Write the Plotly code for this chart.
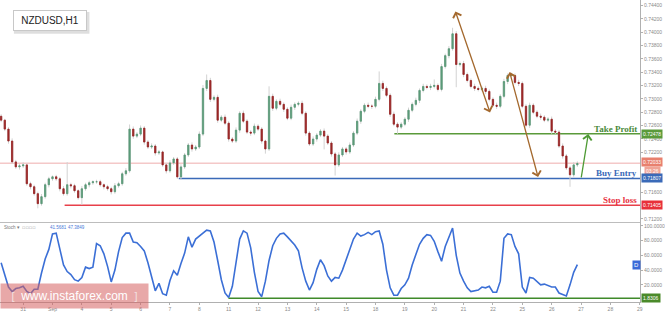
import plotly.graph_objects as go

symbol = "NZDUSD,H1"
day_labels = ["31", "Sep", "4", "5", "6", "7", "8", "11", "12", "13", "14", "15",
              "18", "19", "20", "21", "22", "25", "26", "27", "28", "29"]
price_ticks = [0.712, 0.716, 0.722, 0.724, 0.726, 0.728, 0.730, 0.732, 0.734, 0.736,
               0.738, 0.740, 0.742, 0.744]
stoch_ticks = [20, 40, 60, 80, 100]
bar_hours = 3
start_hour = -18
first_open = 0.72740
pip = 0.0001

closes = [
    0.72681, 0.72547, 0.72368, 0.72055, 0.71980, 0.71995, 0.72010, 0.71727, 0.71682, 0.71578,
    0.71428, 0.71533, 0.71712, 0.71801, 0.71831, 0.71801, 0.71652, 0.71578, 0.71712, 0.71697,
    0.71622, 0.71518, 0.71652, 0.71712, 0.71742, 0.71757, 0.71757, 0.71712, 0.71682, 0.71652,
    0.71607, 0.71697, 0.71727, 0.71876, 0.71921, 0.72547, 0.72442, 0.72472, 0.72562, 0.72353,
    0.72278, 0.72293, 0.72189, 0.72204, 0.72010, 0.71921, 0.72040, 0.72099, 0.71830, 0.71980,
    0.72159, 0.72308, 0.72249, 0.72278, 0.72472, 0.73158, 0.73277, 0.72994, 0.73024, 0.72681,
    0.72726, 0.72636, 0.72398, 0.72368, 0.72532, 0.72785, 0.72666, 0.72502, 0.72487, 0.72591,
    0.72547, 0.72368, 0.72249, 0.73039, 0.72860, 0.72964, 0.72919, 0.72845, 0.72711, 0.72875,
    0.72919, 0.72934, 0.72785, 0.72487, 0.72323, 0.72398, 0.72457, 0.72517, 0.72442, 0.72338,
    0.72174, 0.72010, 0.72159, 0.72249, 0.72204, 0.72308, 0.72487, 0.72666, 0.72815, 0.72905,
    0.72890, 0.72890, 0.72994, 0.73233, 0.73158, 0.73054, 0.72770, 0.72621, 0.72577, 0.72621,
    0.72696, 0.72830, 0.72919, 0.72979, 0.73128, 0.73188, 0.73173, 0.73188, 0.73203, 0.73143,
    0.73486, 0.73650, 0.73754, 0.73978, 0.73516, 0.73531, 0.73367, 0.73277, 0.73188, 0.73158,
    0.73143, 0.73158, 0.73113, 0.72994, 0.72905, 0.72890, 0.73039, 0.73262, 0.73352, 0.73352,
    0.73248, 0.73233, 0.72890, 0.72606, 0.72905, 0.72800, 0.72741, 0.72726, 0.72681, 0.72696,
    0.72517, 0.72502, 0.72293, 0.72144, 0.71965, 0.71861, 0.72010, 0.72033,
]

wick_up_pips = [
    3, 2, 3, 4, 3, 3, 4, 2, 3, 3,
    3, 4, 3, 3, 2, 3, 3, 4, 34, 3,
    3, 2, 4, 3, 3, 2, 3, 3, 2, 3,
    3, 4, 3, 3, 4, 7, 4, 3, 4, 3,
    3, 4, 3, 3, 2, 3, 4, 3, 3, 4,
    3, 3, 4, 3, 4, 5, 9, 4, 3, 4,
    3, 4, 3, 3, 4, 3, 4, 3, 3, 4,
    3, 3, 2, 15, 4, 3, 4, 3, 3, 4,
    3, 3, 4, 3, 3, 4, 3, 3, 4, 3,
    3, 3, 4, 3, 3, 4, 3, 4, 3, 3,
    4, 3, 4, 18, 4, 3, 3, 4, 3, 3,
    3, 4, 3, 4, 3, 4, 3, 4, 9, 3,
    4, 3, 4, 9, 4, 3, 4, 3, 3, 4,
    3, 3, 4, 3, 3, 4, 3, 4, 3, 4,
    3, 4, 3, 3, 4, 3, 3, 4, 3, 3,
    4, 3, 3, 4, 3, 3, 4, 3,
]

wick_dn_pips = [
    3, 3, 4, 3, 3, 4, 3, 3, 4, 3,
    7, 3, 3, 4, 3, 3, 4, 3, 3, 4,
    3, 3, 11, 3, 4, 3, 3, 3, 4, 3,
    4, 3, 3, 3, 3, 3, 4, 3, 3, 4,
    3, 3, 4, 3, 3, 4, 3, 3, 3, 4,
    3, 3, 4, 3, 3, 3, 4, 4, 3, 4,
    3, 3, 4, 3, 3, 4, 3, 3, 4, 3,
    3, 4, 7, 3, 4, 3, 3, 4, 3, 3,
    4, 3, 3, 4, 3, 3, 4, 3, 20, 3,
    4, 16, 3, 3, 4, 3, 3, 3, 4, 3,
    3, 4, 3, 3, 4, 3, 4, 3, 10, 3,
    3, 4, 3, 3, 4, 3, 3, 4, 3, 3,
    3, 3, 4, 3, 34, 3, 4, 3, 3, 4,
    3, 3, 4, 3, 3, 4, 3, 3, 4, 3,
    3, 4, 3, 3, 4, 3, 3, 4, 3, 3,
    4, 3, 3, 4, 3, 18, 3, 3,
]

stoch = [
    50, 33, 17, 11, 15, 16, 18, 11, 8, 14,
    14, 36, 55, 68, 89, 90, 68, 47, 38, 34,
    27, 25, 30, 44, 42, 44, 76, 73, 62, 45,
    24, 40, 65, 84, 90, 90, 78, 77, 72, 66,
    50, 29, 12, 22, 8, 6, 26, 39, 33, 49,
    63, 85, 71, 82, 86, 91, 94, 93, 78, 53,
    27, 9, 3, 18, 52, 82, 93, 90, 70, 37,
    11, 4, 25, 53, 73, 83, 89, 90, 85, 79,
    74, 66, 43, 25, 13, 23, 41, 54, 46, 32,
    25, 30, 29, 40, 55, 70, 82, 90, 86, 88,
    91, 88, 92, 93, 75, 40, 16, 6, 6, 15,
    20, 29, 47, 61, 75, 83, 88, 87, 79, 65,
    52, 72, 85, 97, 60, 36, 25, 16, 11, 12,
    13, 17, 16, 18, 10, 10, 25, 83, 89, 88,
    72, 62, 17, 9, 30, 29, 25, 20, 21, 19,
    17, 17, 9, 7, 5, 20, 37, 47.4,
]

take_profit = 0.72478
buy_entry = 0.71807
stop_loss = 0.71405
last_price = 0.72033
stoch_level = 1.8306
stoch_k_text = "41.5681"
stoch_d_text = "47.3849"
countdown = "03:26"
watermark = "www.instaforex.com"

# level start times (hours from 31 Aug 00:00, trading hours)
tp_start, be_start, sl_start, st_start = 303.4, 127.2, 33.9, 167.8
# arrows (hour, price)
arrow1 = ((352.9, 0.74336), (381.6, 0.72796))
arrow2 = ((397.3, 0.73426), (420.9, 0.71827))
arrow3 = ((456.0, 0.71801), (461.9, 0.72472))

# ------------------------------------------------------------------
n = len(closes)
times = [start_hour + bar_hours * k for k in range(n)]
opens = [first_open] + closes[:-1]
highs = [max(o, c) + u * pip for o, c, u in zip(opens, closes, wick_up_pips)]
lows = [min(o, c) - d * pip for o, c, d in zip(opens, closes, wick_dn_pips)]
body_hi = [max(o, c) for o, c in zip(opens, closes)]
body_lo = [min(o, c) for o, c in zip(opens, closes)]

X0, X1 = -18.92, 504.2
Y_MAIN = [0.71145, 0.74485]
Y_ST = [-3.2, 104.4]
split = 0.2632
PW, PH = 644, 304


def px(x):
    return x / PW


def py(y):
    return (PH - y) / PH


fig = go.Figure()
gray = "#d2d2d2"
fig.add_trace(go.Candlestick(
    x=times, open=opens, high=highs, low=lows, close=closes,
    increasing=dict(line=dict(color=gray, width=1), fillcolor=gray),
    decreasing=dict(line=dict(color=gray, width=1), fillcolor=gray),
    whiskerwidth=0, hoverinfo="skip", showlegend=False, xaxis="x", yaxis="y"))
fig.add_trace(go.Candlestick(
    x=times, open=opens, high=body_hi, low=body_lo, close=closes,
    increasing=dict(line=dict(color="#5b9b78", width=0.8), fillcolor="#5b9b78"),
    decreasing=dict(line=dict(color="#9a2626", width=0.8), fillcolor="#9a2626"),
    whiskerwidth=0, hoverinfo="skip", showlegend=False, xaxis="x", yaxis="y"))
fig.add_trace(go.Scatter(
    x=times, y=stoch, mode="lines", line=dict(color="#3b6fd6", width=1.6),
    showlegend=False, hoverinfo="skip", xaxis="x", yaxis="y2"))

shapes = []


def hline(x0, y, color, width, yref="y"):
    shapes.append(dict(type="line", xref="x", yref=yref, x0=x0, x1=X1, y0=y, y1=y,
                       line=dict(color=color, width=width), layer="below"))


hline(X0, last_price, "#f4c8c8", 1.5)
hline(tp_start, take_profit, "#5a9a3a", 1.5)
hline(be_start, buy_entry, "#3a6ab8", 1.5)
hline(sl_start, stop_loss, "#e8404a", 1.5)
hline(st_start, stoch_level, "#3f8a2a", 1.5, yref="y2")
# pane separator
shapes.append(dict(type="line", xref="paper", yref="paper", x0=0, x1=1, y0=split, y1=split,
                   line=dict(color="#bdbdbd", width=1)))
# title box shadow
shapes.append(dict(type="rect", xref="paper", yref="paper",
                   x0=px(14), x1=px(90), y0=py(34), y1=py(12),
                   line=dict(width=0), fillcolor="rgba(0,0,0,0.13)"))

ann = []


def price_tag(y, text, bg, yref="y", yshift=0, xshift=1):
    ann.append(dict(xref="paper", yref=yref, x=1, y=y, xanchor="left", yanchor="middle",
                    xshift=xshift, yshift=yshift, text=text, showarrow=False, bgcolor=bg,
                    borderpad=1, font=dict(size=5, color="white", family="Arial")))


price_tag(take_profit, f"{take_profit:.5f}", "#5a9a3a")
price_tag(last_price, f"{last_price:.5f}", "#e8806e", yshift=1)
price_tag(last_price, countdown, "#f0a496", yshift=-8, xshift=4)
price_tag(buy_entry, f"{buy_entry:.5f}", "#3a6ab8")
price_tag(stop_loss, f"{stop_loss:.5f}", "#e8303a")
price_tag(stoch_level, f"{stoch_level:.4f}", "#4a8a2a", yref="y2")


def level_text(y, text, color):
    ann.append(dict(xref="paper", yref="y", x=1, y=y, xanchor="right", yanchor="bottom",
                    xshift=-1, yshift=-2, text=text, showarrow=False,
                    font=dict(size=9, color=color, family="Liberation Serif")))


level_text(take_profit, "<b>Take Profit</b>", "#4a8a3a")
level_text(buy_entry, "<b>Buy Entry</b>", "#3a6ab8")
level_text(stop_loss, "<b>Stop loss</b>", "#e83040")


def arrow(a, color, double):
    (x0, y0), (x1, y1) = a
    ann.append(dict(x=x1, y=y1, ax=x0, ay=y0, xref="x", yref="y", axref="x", ayref="y",
                    text="", showarrow=True, arrowhead=4, arrowsize=1.3, arrowwidth=1.3,
                    startarrowhead=4, startarrowsize=1.3,
                    arrowside="end+start" if double else "end", arrowcolor=color))


arrow(arrow1, "#a4692e", True)
arrow(arrow2, "#a4692e", True)
arrow(arrow3, "#4e9a34", False)


def label(x, y, text, size, color, anchor="left", family="Arial", **kw):
    d = dict(xref="paper", yref="paper", x=px(x), y=py(y), xanchor=anchor, yanchor="middle",
             text=text, showarrow=False, font=dict(size=size, color=color, family=family))
    d.update(kw)
    ann.append(d)


label(50, 21, symbol, 10, "#222", anchor="center", bgcolor="white", bordercolor="#c8c8c8",
      borderwidth=1, borderpad=4, width=64)
label(2, 229, "Stoch ▾", 4.5, "#777")
label(20, 229, "▫▫▫▫", 5, "#aaa", family="DejaVu Sans")
label(48, 229, stoch_k_text, 4.5, "#4a7ad8")
label(66, 229, stoch_d_text, 4.5, "#4a7ad8")
label(640, 267, "D", 6, "white", anchor="center", bgcolor="#3a6ad8", borderpad=1)
wm_text = ('<span style="font-size:11px;color:#f3e0e0">[</span>  ' + watermark +
           '  <span style="font-size:11px;color:#f3e0e0">]</span>')
label(0, 297.5, wm_text, 12, "white", anchor="left", bgcolor="rgba(214,96,96,0.55)",
      width=147, height=24, borderpad=0, align="center")

axis_font = dict(size=5, color="#8a8a8a", family="Arial")
fig.update_layout(
    width=665, height=312, margin=dict(l=0, r=21, t=0, b=8),
    paper_bgcolor="white", plot_bgcolor="white", boxgap=0.5,
    showlegend=False, shapes=shapes, annotations=ann,
    xaxis=dict(range=[X0, X1], anchor="y2", tickvals=[24 * i for i in range(len(day_labels))],
               ticktext=day_labels, tickfont=axis_font, ticks="outside", ticklen=2,
               tickcolor="#b0b0b0", showline=True, linecolor="#b0b0b0", linewidth=1,
               showgrid=False, zeroline=False, rangeslider=dict(visible=False), fixedrange=True),
    yaxis=dict(domain=[split, 1], range=Y_MAIN, side="right", anchor="x",
               tickvals=price_ticks, tickformat=".5f", tickfont=axis_font, ticks="outside",
               ticklen=2, tickcolor="#b0b0b0", showline=True, linecolor="#b0b0b0",
               showgrid=False, zeroline=False),
    yaxis2=dict(domain=[0, split], range=Y_ST, side="right", anchor="x",
                tickvals=stoch_ticks, tickformat=".4f", tickfont=axis_font,
                ticks="outside", ticklen=2, tickcolor="#b0b0b0", showline=True,
                linecolor="#b0b0b0", showgrid=False, zeroline=False),
)

fig.write_html("out.html")
